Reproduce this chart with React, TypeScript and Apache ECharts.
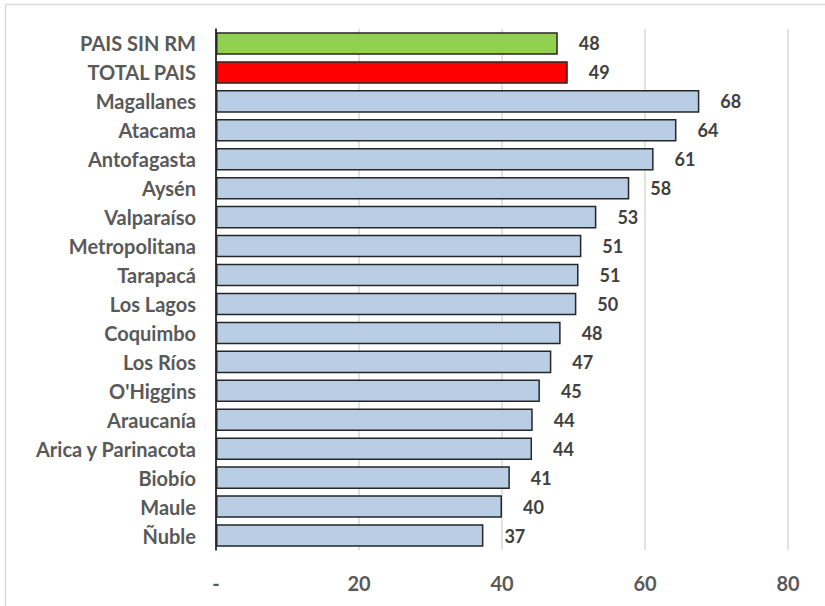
import React, { useEffect, useRef } from "react";
import * as echarts from "echarts";

const categories = [
  "PAIS SIN RM",
  "TOTAL PAIS",
  "Magallanes",
  "Atacama",
  "Antofagasta",
  "Aysén",
  "Valparaíso",
  "Metropolitana",
  "Tarapacá",
  "Los Lagos",
  "Coquimbo",
  "Los Ríos",
  "O'Higgins",
  "Araucanía",
  "Arica y Parinacota",
  "Biobío",
  "Maule",
  "Ñuble",
];

const values = [
  47.8, 49.2, 67.6, 64.4, 61.2, 57.8, 53.2, 51.1, 50.7, 50.4, 48.2, 46.9, 45.3,
  44.3, 44.2, 41.1, 40.0, 37.4,
];

const barColors = [
  "#92D050",
  "#FF0000",
  "#B9CDE5", "#B9CDE5", "#B9CDE5", "#B9CDE5", "#B9CDE5", "#B9CDE5", "#B9CDE5",
  "#B9CDE5", "#B9CDE5", "#B9CDE5", "#B9CDE5", "#B9CDE5", "#B9CDE5", "#B9CDE5",
  "#B9CDE5", "#B9CDE5",
];

const FONT = "Lato, 'Open Sans', sans-serif";

export default function App() {
  const ref = useRef<HTMLDivElement>(null);

  useEffect(() => {
    if (!ref.current) return;
    const chart = echarts.init(ref.current, undefined, { renderer: "svg" });
    chart.setOption({
      animation: false,
      backgroundColor: "#ffffff",
      graphic: [
        {
          type: "line",
          shape: { x1: 5.5, y1: 4.5, x2: 825, y2: 4.5 },
          style: { stroke: "#D9D9D9", lineWidth: 1.5 },
          silent: true,
        },
        {
          type: "line",
          shape: { x1: 5.5, y1: 4.5, x2: 5.5, y2: 606 },
          style: { stroke: "#D9D9D9", lineWidth: 1.5 },
          silent: true,
        },
      ],
      grid: { left: 216, right: 37, top: 29, bottom: 56, containLabel: false },
      xAxis: {
        type: "value",
        min: 0,
        max: 80,
        interval: 20,
        axisLine: { show: false },
        axisTick: { show: false },
        splitLine: { show: true, lineStyle: { color: "#D9D9D9", width: 1.5 } },
        axisLabel: {
          margin: 23,
          fontFamily: FONT,
          fontWeight: "bold",
          fontSize: 20,
          color: "#595959",
          formatter: (v: number) => (v === 0 ? "-" : String(v)),
        },
      },
      yAxis: {
        type: "category",
        data: categories,
        inverse: true,
        axisLine: { show: true, lineStyle: { color: "#000000", width: 1.5 } },
        axisTick: { show: false },
        axisLabel: {
          margin: 20,
          fontFamily: FONT,
          fontWeight: "bold",
          fontSize: 20,
          color: "#595959",
        },
      },
      series: [
        {
          type: "bar",
          data: values.map((v, i) => ({
            value: v,
            itemStyle: { color: barColors[i] },
          })),
          barCategoryGap: "22%",
          itemStyle: { borderColor: "#262626", borderWidth: 1.5 },
          label: {
            show: true,
            position: "right",
            distance: 21,
            fontFamily: FONT,
            fontWeight: "bold",
            fontSize: 18,
            color: "#404040",
            formatter: (p: any) => String(Math.round(p.value)),
          },
        },
      ],
    });
    return () => chart.dispose();
  }, []);

  return (
    <div
      ref={ref}
      style={{ position: "fixed", left: 0, top: 0, width: 825, height: 606 }}
    />
  );
}
